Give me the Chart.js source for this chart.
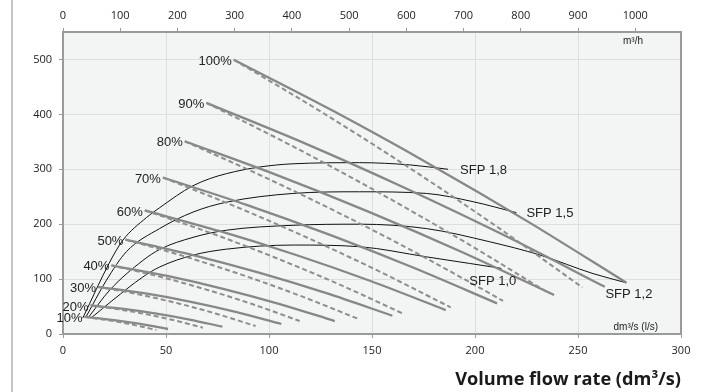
<!DOCTYPE html>
<html>
<head>
<meta charset="utf-8">
<script src="https://cdn.jsdelivr.net/npm/chart.js@4.4.1/dist/chart.umd.min.js"></script>
<style>
html,body{margin:0;padding:0;background:#ffffff;}
#wrap{position:relative;width:704px;height:392px;overflow:hidden;}
#edge{position:absolute;left:11px;top:0;width:1.5px;height:392px;background:#c4c4c4;}
canvas{position:absolute;left:0;top:0;}
</style>
</head>
<body>
<div id="wrap"><canvas id="c" width="704" height="392"></canvas><div id="edge"></div></div>
<script>
// ---- data ----
const flowTicksLs = [0, 50, 100, 150, 200, 250, 300];          // dm3/s (l/s)
const flowTicksM3h = [0, 100, 200, 300, 400, 500, 600, 700, 800, 900, 1000]; // m3/h
const pressureTicks = [0, 100, 200, 300, 400, 500];            // Pa

const fanLabels = ['10%', '20%', '30%', '40%', '50%', '60%', '70%', '80%', '90%', '100%'];

// solid fan curves [flow dm3/s, pressure Pa]
const fan10 = [[10.5,31],[20.6,27.0],[30.8,22.0],[40.9,16.1],[51.0,9.1]];
const fan20 = [[13.4,52],[29.4,45.7],[45.4,37.2],[61.4,26.4],[77.4,13.3]];
const fan30 = [[17,86],[39.3,74.3],[61.5,59.1],[83.8,40.4],[106,18.2]];
const fan40 = [[23.5,125],[50.6,105.7],[77.7,82.3],[104.8,55.0],[131.9,23.6]];
const fan50 = [[30.3,172],[62.7,144.1],[95.1,111.7],[127.5,74.8],[159.9,33.3]];
const fan60 = [[39.7,225],[76.2,187.2],[112.8,144.3],[149.3,96.5],[185.8,43.6]];
const fan70 = [[48.5,285],[89.1,235.2],[129.6,180.4],[170.2,120.6],[210.7,55.8]];
const fan80 = [[59.1,351],[103.9,289.3],[148.8,222],[193.6,149.3],[238.4,71]];
const fan90 = [[69.6,421],[118,346.3],[166.3,265.5],[214.7,178.8],[263,86]];
const fan100 = [[82.9,499.5],[130.6,407.3],[178.2,308.9],[225.9,204.2],[273.5,93.3]];

// dashed fan curves
const fan10d = [[10.5,31],[19.2,26.6],[27.9,21.2],[36.6,14.7],[45.3,7.3]];
const fan20d = [[13.4,52],[27.0,44.9],[40.7,35.8],[54.3,24.6],[67.9,11.5]];
const fan30d = [[17,86],[36.1,72.6],[55.3,56.3],[74.4,36.9],[93.5,14.5]];
const fan40d = [[23.5,125],[46.4,104.9],[69.2,81.3],[92.1,54.2],[114.9,23.6]];
const fan50d = [[30.3,172],[58.6,141.8],[86.9,107.7],[115.2,69.5],[143.5,27.3]];
const fan60d = [[39.7,225],[71.2,184.6],[102.6,139.7],[134.1,90.3],[165.5,36.4]];
const fan70d = [[48.5,285],[83.4,232.6],[118.4,175.8],[153.3,114.4],[188.2,48.5]];
const fan80d = [[59.1,351],[97.7,285.9],[136.4,215.8],[175.0,140.6],[213.6,60.5]];
const fan90d = [[69.6,421],[111.2,342.5],[152.8,258.5],[194.4,169.0],[236,74]];
const fan100d = [[82.9,499.5],[125.2,404.9],[167.5,304.2],[209.8,197.6],[252.1,84.9]];

// SFP curves
const sfpLabels = ['SFP 1,8', 'SFP 1,5', 'SFP 1,2', 'SFP 1,0'];
const sfp18 = [[9.6,29],[22.7,131],[29.1,171],[40.5,212],[46.9,230],[63.1,270],[79.3,292],[111.7,310],[144,312],[168.3,308],[186.9,300]];
const sfp15 = [[11,30],[21.1,98],[30.8,150],[46.9,192],[63.1,222],[79.3,240],[111.7,256],[144,259],[176.4,256],[199,241],[220.1,221]];
const sfp12 = [[12.5,31],[22.7,80],[38.8,134],[46.9,154],[63.1,176],[79.3,189],[111.7,198],[144,200],[176.4,192],[207.1,168],[231.4,144],[257.3,110],[273.5,93.3]];
const sfp10 = [[13.9,30],[24.3,62],[38.8,104],[46.9,122],[63.1,143.6],[79.3,154.5],[111.7,162],[144,159],[176.4,140.5],[197.4,128.5],[212.8,119.5]];

// ---- build chart ----
const solidCurves = [fan10, fan20, fan30, fan40, fan50, fan60, fan70, fan80, fan90, fan100];
const dashedCurves = [fan10d, fan20d, fan30d, fan40d, fan50d, fan60d, fan70d, fan80d, fan90d, fan100d];
const sfpCurves = [sfp18, sfp15, sfp12, sfp10];
const sfpLabelOffsets = [[12, 1], [10, 1], [-21, 12], [-32, 13]]; // px offsets from curve end

const toXY = arr => arr.map(p => ({x: p[0], y: p[1]}));
const datasets = [];
dashedCurves.forEach((c, i) => datasets.push({
  label: fanLabels[i] + ' dashed', data: toXY(c), showLine: true, pointRadius: 0,
  borderColor: '#8e8e8e', borderWidth: 2, borderDash: [5, 3], cubicInterpolationMode: 'monotone', fill: false
}));
solidCurves.forEach((c, i) => datasets.push({
  label: fanLabels[i], data: toXY(c), showLine: true, pointRadius: 0,
  borderColor: '#878787', borderWidth: 2.3, cubicInterpolationMode: 'monotone', fill: false
}));
sfpCurves.forEach((c, i) => datasets.push({
  label: sfpLabels[i], data: toXY(c), showLine: true, pointRadius: 0,
  borderColor: '#111111', borderWidth: 1, cubicInterpolationMode: 'monotone', fill: false
}));

const TXT = '#222222';
const tickFont = {family: "'Open Sans', sans-serif", size: 11};
const plainNum = v => String(v);

const overlay = {
  id: 'overlay',
  beforeDraw(chart) {
    const {ctx, chartArea: a} = chart;
    ctx.save();
    ctx.fillStyle = '#f3f4f4';
    ctx.fillRect(a.left, a.top, a.right - a.left, a.bottom - a.top);
    ctx.restore();
  },
  afterDraw(chart) {
    const {ctx, chartArea: a, scales} = chart;
    const xs = scales.x, ys = scales.y;
    ctx.save();
    ctx.strokeStyle = '#9a9a9a';
    ctx.lineWidth = 2;
    ctx.strokeRect(a.left, a.top, a.right - a.left, a.bottom - a.top);

    ctx.fillStyle = TXT;
    ctx.font = "13px 'Liberation Sans', Arial, sans-serif";
    ctx.textAlign = 'right';
    ctx.textBaseline = 'middle';
    solidCurves.forEach((c, i) => {
      const px = xs.getPixelForValue(c[0][0]);
      const py = ys.getPixelForValue(c[0][1]);
      ctx.fillText(fanLabels[i], px - 2, py + 1.5);
    });

    ctx.textAlign = 'left';
    sfpCurves.forEach((c, i) => {
      const e = c[c.length - 1];
      const px = xs.getPixelForValue(e[0]);
      const py = ys.getPixelForValue(e[1]);
      ctx.fillText(sfpLabels[i], px + sfpLabelOffsets[i][0], py + sfpLabelOffsets[i][1]);
    });

    ctx.font = "10px 'Liberation Sans', Arial, sans-serif";
    ctx.textAlign = 'left';
    ctx.fillText('m³/h', a.right - 58, a.top + 9);
    ctx.textAlign = 'right';
    ctx.fillText('dm³/s (l/s)', a.right - 23, a.bottom - 7);
    ctx.restore();
  }
};

new Chart(document.getElementById('c'), {
  type: 'scatter',
  data: {datasets},
  options: {
    responsive: false,
    animation: false,
    events: [],
    layout: {padding: {left: 0, right: 23, top: 0, bottom: 0}},
    plugins: {legend: {display: false}, tooltip: {enabled: false}},
    scales: {
      x: {
        type: 'linear', position: 'bottom', min: flowTicksLs[0], max: flowTicksLs[flowTicksLs.length - 1],
        afterBuildTicks: s => { s.ticks = flowTicksLs.map(v => ({value: v})); },
        afterFit: s => { s.height = 58; },
        ticks: {color: TXT, font: tickFont, padding: 6, maxRotation: 0, callback: plainNum},
        grid: {color: '#dedede', tickColor: '#9a9a9a', tickLength: 4, lineWidth: 1},
        border: {display: false},
        title: {display: true, text: 'Volume flow rate (dm³/s)', align: 'end', color: '#1a1a1a',
          font: {family: "'Open Sans', sans-serif", size: 18.2, weight: '700'}, padding: {top: 0, bottom: 1}}
      },
      x2: {
        type: 'linear', position: 'top', min: 0, max: flowTicksLs[flowTicksLs.length - 1] * 3.6,
        afterBuildTicks: s => { s.ticks = flowTicksM3h.map(v => ({value: v})); },
        afterFit: s => { s.height = 32; },
        ticks: {color: TXT, font: tickFont, padding: 6, maxRotation: 0, callback: plainNum},
        grid: {drawOnChartArea: false, color: '#9a9a9a', tickLength: 4},
        border: {display: false}
      },
      y: {
        type: 'linear', position: 'left', min: 0, max: 550,
        afterBuildTicks: s => { s.ticks = pressureTicks.map(v => ({value: v})); },
        afterFit: s => { s.width = 63; },
        ticks: {color: TXT, font: tickFont, padding: 7, callback: plainNum},
        grid: {color: '#dedede', tickColor: '#9a9a9a', tickLength: 4, lineWidth: 1},
        border: {display: false}
      }
    }
  },
  plugins: [overlay]
});
</script>
</body>
</html>
